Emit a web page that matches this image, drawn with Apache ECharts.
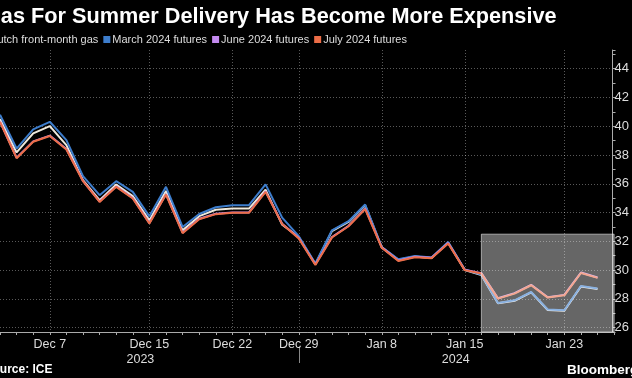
<!DOCTYPE html>
<html><head><meta charset="utf-8">
<script src="https://cdn.jsdelivr.net/npm/echarts@6/dist/echarts.min.js"></script>
<style>html,body{margin:0;padding:0;background:#000;}#c{width:632px;height:378px;}</style>
</head><body><div id="c"></div>
<script>
const dates = ['Dec 4','Dec 5','Dec 6','Dec 7','Dec 8','Dec 11','Dec 12','Dec 13','Dec 14','Dec 15',
  'Dec 18','Dec 19','Dec 20','Dec 21','Dec 22','Dec 26','Dec 27','Dec 28','Dec 29',
  'Jan 2','Jan 3','Jan 4','Jan 5','Jan 8','Jan 9','Jan 10','Jan 11','Jan 12',
  'Jan 15','Jan 16','Jan 17','Jan 18','Jan 19','Jan 22','Jan 23','Jan 24','Jan 25','Jan 26'];
const frontMonth = [40.5,38.18,39.5,40.01,38.69,36.25,34.86,35.95,35.15,33.47,
  35.5,32.77,33.75,34.2,34.28,34.28,35.6,33.15,32.3,
  30.42,32.72,33.35,34.5,31.58,30.72,30.95,30.85,31.92,
  30.0,29.66,27.7,27.87,28.45,27.23,27.18,28.87,28.69,null];
const march = [40.8,38.45,39.78,40.31,39.04,36.53,35.21,36.18,35.44,33.74,
  35.79,33.0,33.9,34.37,34.51,34.51,35.96,33.65,32.36,
  30.46,32.77,33.4,34.56,31.6,30.76,30.99,30.88,31.96,
  30.04,29.69,27.72,27.9,28.48,27.26,27.21,28.9,28.72,null];
const june = [40.33,37.81,38.95,39.35,38.42,36.21,34.77,35.82,35.01,33.27,
  35.28,32.6,33.57,33.92,34.01,34.01,35.47,33.23,32.23,
  30.39,32.3,33.08,34.27,31.58,30.67,30.93,30.86,31.88,
  30.03,29.79,28.05,28.4,28.98,28.12,28.28,29.83,29.49,null];
const july = [40.3,37.78,38.92,39.32,38.39,36.18,34.74,35.79,34.98,33.24,
  35.25,32.57,33.54,33.89,33.98,33.98,35.44,33.2,32.2,
  30.36,32.27,33.05,34.24,31.55,30.64,30.9,30.83,31.85,
  30.0,29.76,28.02,28.37,28.95,28.09,28.25,29.8,29.46,null];
const labeledDates = ['Dec 7','Dec 15','Dec 22','Dec 29','Jan 8','Jan 15','Jan 23'];
const yearLabels = {'Dec 15':'2023','Jan 15':'2024'};
const yearBreakDate = 'Dec 29';
const highlightStart = 'Jan 16';
const highlightEnd = 'Jan 26';
const highlightTop = 32.5;
const yMin = 25.7, yMax = 45.3;
const seriesNames = ['Dutch front-month gas','March 2024 futures','June 2024 futures','July 2024 futures'];
const seriesData = [frontMonth, march, june, july];
const colors = ['#efe9dc','#3d7dcc','#c48af0','#ec6d47'];

const FONT = 'Liberation Sans, Arial, sans-serif';
const chart = echarts.init(document.getElementById('c'), null, {renderer:'canvas'});
const series = seriesNames.map((n,i)=>({
  name:n, type:'line', data:seriesData[i], symbol:'none', z: 2+i,
  lineStyle:{width:2,color:colors[i]}, itemStyle:{color:colors[i]},
  connectNulls:false
}));
series.push({
  name:'hl', type:'line', data:[], symbol:'none',
  markArea:{ z:10, silent:true,
    itemStyle:{color:'rgba(255,255,255,0.4)', borderColor:'rgba(255,255,255,0.55)', borderWidth:1},
    data:[[{xAxis:highlightStart, yAxis:highlightTop},{xAxis:highlightEnd, yAxis:yMin}]]
  }
});
chart.setOption({
  animation:false,
  backgroundColor:'#000',
  title:[
    {text:'Gas For Summer Delivery Has Become More Expensive', left:-16, top:6, padding:0,
     textStyle:{color:'#fff', fontSize:21.7, fontWeight:'bold', fontFamily:FONT}},
    {text:'Source: ICE', left:-15.5, top:364, padding:0,
     textStyle:{color:'#fff', fontSize:12, fontWeight:'bold', fontFamily:FONT}},
    {text:'Bloomberg', left:567, top:363, padding:0,
     textStyle:{color:'#fff', fontSize:13.5, fontWeight:'bold', fontFamily:FONT}}
  ],
  legend:{
    data:seriesNames, left:-19.5, top:34, padding:0, icon:'rect', itemWidth:7, itemHeight:7, itemGap:5,
    textStyle:{color:'#ddd', fontSize:11, fontFamily:FONT, padding:[0,0,0,-3]},
    selectedMode:false
  },
  grid:{left:-3.9, right:15.4, top:50, bottom:46, containLabel:false},
  xAxis:{
    type:'category', data:dates, boundaryGap:false,
    axisLine:{lineStyle:{color:'#aaa', width:1}},
    axisTick:{show:true, interval:0, length:3, lineStyle:{color:'#aaa'}},
    axisLabel:{
      interval:(i,v)=>labeledDates.includes(v), color:'#ddd', fontSize:12.5, fontFamily:FONT,
      margin:5, lineHeight:15,
      formatter:(v)=> yearLabels[v] ? v+'\n{y|'+yearLabels[v]+'}' : v,
      rich:{y:{color:'#ddd', fontSize:12.5, fontFamily:FONT, lineHeight:15, padding:[0,18,0,0]}}
    },
    splitLine:{show:true, interval:(i,v)=>labeledDates.includes(v),
      lineStyle:{color:'rgba(255,255,255,0.35)', type:[1,2], width:1}}
  },
  yAxis:{
    type:'value', position:'right', min:yMin, max:yMax, splitNumber:10, offset:-1.6,
    axisLine:{show:true, lineStyle:{color:'#aaa'}},
    axisTick:{show:true, length:3, lineStyle:{color:'#aaa'}},
    minorTick:{show:true, splitNumber:2, length:3, lineStyle:{color:'#aaa'}},
    axisLabel:{color:'#ddd', fontSize:13, fontFamily:FONT, margin:2, showMinLabel:false, showMaxLabel:false},
    splitLine:{show:true, showMinLine:false, showMaxLine:false,
      lineStyle:{color:'rgba(255,255,255,0.35)', type:[1,2], width:1}}
  },
  series:series
});
const p = chart.convertToPixel({xAxisIndex:0, yAxisIndex:0}, [yearBreakDate, yMin]);
chart.setOption({graphic:[{type:'line', silent:true,
  shape:{x1:Math.round(p[0])+0.5, y1:p[1]+15, x2:Math.round(p[0])+0.5, y2:p[1]+31},
  style:{stroke:'#888', lineWidth:1}}]});
</script></body></html>
